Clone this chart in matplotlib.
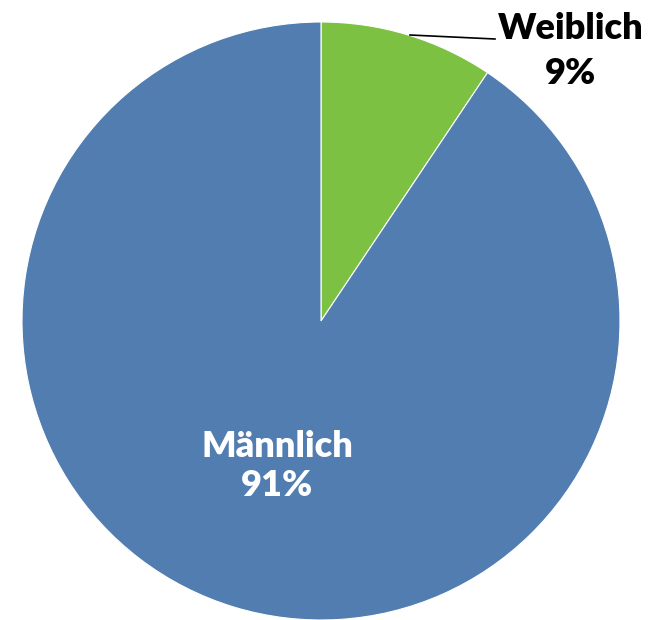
import matplotlib
matplotlib.use("Agg")
import matplotlib.pyplot as plt

categories = ["Weiblich", "Männlich"]
values = [9.4, 90.6]
colors = ["#7DC142", "#517DB1"]

W, H = 659, 620
fig = plt.figure(figsize=(W / 100, H / 100), dpi=100)
ax = fig.add_axes([0, 0, 1, 1])

cx, cy, r = 321, H - 321, 299
wedges, _ = ax.pie(values, colors=colors, startangle=90, counterclock=False,
                   center=(cx, cy), radius=r,
                   wedgeprops=dict(edgecolor="white", linewidth=0.8))
ax.set_xlim(0, W)
ax.set_ylim(0, H)
ax.set_aspect("auto")
ax.axis("off")

font = "Lato"
ax.text(571, H - 51, f"{categories[0]}\n{values[0]:.0f}%", ha="center", va="center",
        fontsize=26, fontweight="heavy", color="black", family=font, linespacing=1.48)
ax.plot([410, 495], [H - 35, H - 39], color="black", lw=1.2)
ax.text(277, H - 466, f"{categories[1]}\n{values[1]:.0f}%", ha="center", va="center",
        fontsize=26, fontweight="heavy", color="white", family=font, linespacing=1.24)

fig.savefig("out.png", dpi=100)
